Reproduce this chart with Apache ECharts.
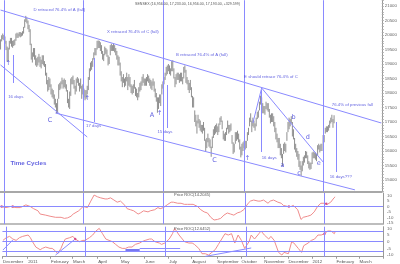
<!DOCTYPE html>
<html><head><meta charset="utf-8">
<script src="https://cdn.jsdelivr.net/npm/echarts@6/dist/echarts.min.js"></script>
<style>html,body{margin:0;padding:0;background:#fff}#c{width:400px;height:264px}</style>
</head><body><div id="c"></div><script>
// ---- categories: weekdays Dec 2010 .. Mar 2012 ----
const monthNames = ['January','February','March','April','May','June','July','August','September','October','November','December'];
const days = [];
(function(){let t=Date.UTC(2010,11,1);const e=Date.UTC(2012,2,30);while(t<=e){const d=new Date(t);const w=d.getUTCDay();if(w>0&&w<6)days.push(d.toISOString().slice(0,10));t+=86400000;}})();

// ---- daily price range (SENSEX) ----
const dayLow = [
19500,19780,19850,19820,19700,19480,19080,19100,19500,19700,19600,19560,19620,19650,19800,19900,19900,19950,19920,19950,19980,20050,20250,
20450,20400,20200,20100,19650,19150,19050,19250,19150,18950,18900,18950,19050,18900,18850,19000,18950,18900,18600,18300,18050,
18100,18200,17950,17850,17800,17600,17500,17300,17300,17800,18100,18150,18300,18150,18200,18150,18050,17650,17500,17450,
17900,18300,18300,18150,17950,18050,18350,18250,18050,18150,17800,17950,17850,17750,17800,17950,18100,18450,18750,18800,18900,19150,19300,
19300,19500,19550,19550,19450,19350,19150,19100,19300,19350,19250,18950,19000,19300,19450,19450,19450,19400,19300,19150,18950,
18950,18600,18400,18200,18350,18200,18250,18400,18100,18250,18200,18000,17950,18000,18150,17900,17850,17750,17850,18050,18100,18250,
18350,18250,18250,18250,18400,18350,18250,18150,18100,18250,18050,17850,17700,17320,17450,17650,17550,17950,18150,18300,18450,18600,
18650,18750,18650,18600,18750,18750,18500,18200,18300,18450,18450,18350,18400,18400,18300,18500,18700,18350,18300,18100,18000,
18100,17850,17500,17500,17000,16850,16600,16950,16800,16700,16650,16600,16700,16350,16000,16100,16300,16150,16100,15800,16100,16450,16550,
16600,16650,16550,16650,16900,17000,16750,16400,16350,16350,16550,16750,16600,16650,16700,16250,15900,15950,16250,16350,16400,16300,
16050,15780,15850,16000,16100,16050,16100,16350,16550,16850,17000,16650,16850,16800,16700,16850,17100,17150,17400,17600,17550,
17300,17300,17250,17450,17400,17350,17150,16950,17000,17000,16850,16650,16400,16300,16100,16100,15850,15750,15480,15900,16000,15950,
16350,16650,16750,16850,16950,16500,16400,16050,15950,15800,15700,15450,15350,15140,15300,15500,15600,15750,15750,15550,15400,15350,
15380,15550,15750,15750,15700,15650,15850,16050,15950,16000,16000,16250,16300,16600,16650,16650,16700,16800,16950,17000,16800,16956
];
const dayHigh = [
19850,19990,20050,20000,19950,19800,19600,19560,19800,19900,19900,19800,19820,19850,20050,20080,20050,20100,20100,20080,20130,20280,20540,
20660,20600,20500,20350,20200,19700,19400,19550,19550,19300,19200,19250,19350,19250,19150,19300,19300,19100,19000,18700,18450,
18550,18500,18300,18150,18100,17950,17800,17650,17800,18300,18350,18400,18530,18450,18500,18450,18300,18100,17800,18050,
18500,18550,18600,18450,18250,18500,18550,18500,18350,18500,18250,18300,18150,18100,18100,18250,18550,18850,19050,19100,19200,19400,19550,
19550,19800,19810,19800,19750,19650,19450,19350,19600,19550,19500,19300,19250,19650,19700,19650,19700,19650,19550,19450,19300,
19250,19050,18750,18550,18650,18500,18550,18700,18550,18650,18550,18300,18250,18300,18450,18200,18150,18000,18200,18350,18400,18560,
18650,18500,18500,18550,18650,18600,18500,18450,18400,18500,18400,18150,18000,17850,17850,17950,17950,18300,18400,18550,18700,18900,
18950,19000,18950,18850,19100,19130,18850,18550,18650,18700,18700,18650,18700,18700,18550,18900,18950,18800,18550,18450,18350,
18450,18200,17900,17850,17400,17250,17050,17250,17100,17050,16900,16900,17000,16800,16400,16450,16600,16450,16400,16150,16500,16750,16850,
16900,16950,16850,16950,17150,17200,17050,16700,16600,16650,16800,17050,16900,16900,16950,16550,16300,16250,16650,16650,16700,16600,
16400,16150,16250,16300,16350,16350,16350,16650,16800,17150,17300,17050,17150,17050,16950,17150,17350,17400,17700,17910,17850,
17650,17550,17550,17700,17650,17650,17450,17250,17300,17300,17200,17000,16800,16600,16450,16450,16250,16100,15900,16250,16300,16250,
16650,17000,17150,17100,17200,17000,16750,16450,16250,16100,16000,15900,15650,15500,15650,15800,15850,16000,15980,15850,15650,15600,
15600,15950,15980,15950,15950,15900,16200,16250,16200,16250,16250,16550,16550,16800,16850,16850,16900,17050,17150,17250,17100,17233
];

// ---- Price ROC panels: [day index, value] ----
const roc1 = [[0,0],[5,-1],[9,0],[14,-1],[18,-1],[23,1.5],[27,0],[30,-2],[34,-4],[36,-7],[41,-8],[45,-9],[50,-10],[55,-10],[58,-11],[61,-10.5],[64,-9],[66,-7],[71,-4],[75,0],[79,-1],[82,5],[85,10.6],[88,9],[91,8],[95,7],[97,7],[100,8],[103,6],[106,4],[109,5],[113,1],[115,-2],[118,-3],[121,-4],[125,-7],[127,-6],[130,-4],[134,-5],[136,-4],[140,-3],[143,-1],[145,-2],[148,-1],[152,2],[155,4],[157,4],[161,3],[164,3],[167,2],[170,2],[173,2],[175,2],[179,0],[182,-3],[185,-5],[188,-6],[191,-10],[194,-12.5],[197,-12],[200,-11],[203,-8],[206,-6],[209,-7],[212,-8],[215,-6],[218,-5],[221,-3],[225,3],[227,5],[230,6],[234,5],[236,5],[239,6],[243,3],[245,5],[248,6],[252,4],[255,3],[257,1],[261,0],[264,0],[266,1],[270,-3],[273,-12],[275,-10],[279,-9],[282,-8],[285,-5],[288,0],[291,3],[294,3],[297,2],[300,4],[303,8],[304,9]];
const roc2 = [[0,1],[3,3],[6,4],[9,2],[12,1],[15,3],[18,4],[23,5],[25,3],[27,0],[30,-4],[34,-6],[36,-5],[39,-4],[43,-5],[45,-5],[48,-7],[50,-9],[53,-5],[55,-1],[57,2],[61,3],[64,4],[66,2],[70,0],[73,1],[75,1],[79,3],[82,5],[85,8],[88,10],[91,6],[94,2],[97,1],[100,0],[103,-2],[106,-4],[109,-5],[112,-5],[115,-4],[118,-4],[121,-2],[125,-1],[127,0],[130,1],[134,2],[136,2],[139,0],[143,-1],[145,-2],[148,-1],[152,2],[155,6],[157,10],[161,5],[164,2],[166,0],[170,-1],[173,-1],[175,-2],[179,-5],[182,-9],[185,-9],[188,-10],[191,-8],[194,-6],[197,-2],[200,2],[203,6],[206,5],[209,6],[212,-1],[215,5],[218,1],[221,-5],[225,0],[227,5],[230,2],[234,6],[236,8],[239,5],[243,2],[245,4],[248,1],[252,-8],[255,-10],[257,-8],[261,-9],[264,0],[266,-1],[270,-5],[273,-8],[275,-3],[279,-1],[282,1],[285,2],[288,5],[291,5],[294,6],[297,8],[300,8],[303,6],[304,8]];
const roc1Dots = [[1,0],[11,0],[262,0],[296,2.5]];
const roc2Dots = [[66,2],[294,6]];

// ---- analyst drawings (data coordinates: [day index, level]) ----
const cycleDays = [3,75,148,222,294];
const trendLines = [
  [[0,20860],[347,16966]],
  [[0,18966],[79,16483]],
  [[50,17310],[323,14660]],
  [[230,16966],[238,18172]],
  [[238,18172],[294,15621]]
];
const dayMarks = [
  [[12,19310],[12,18345]],
  [[85,19207],[85,17000]],
  [[152,18276],[152,16793]],
  [[238,18103],[238,15966]],
  [[306,17000],[306,15276]]
];
const notes = [
  ['D retraced 76.4% of A (fall)',30,20862],
  ['X retraced 76.4% of C (fall)',97,20103],
  ['B retraced 76.4% of A (fall)',160,19310],
  ['E should retrace 76.4% of C',222,18552],
  ['76.4% of previous fall',302,17586],
  ['16 days',7,17862],
  ['17 days',78,16862],
  ['15 days',143,16655],
  ['16 days',238,15759],
  ['16 days???',300,15103]
];
const waveLabels = [
  ['C',45,17069],['A',138,17241],['C',195,15690],['a',257,15517],['b',267,17172],
  ['c',272,15241],['d',280,16483],['e',290,15586],
  ['\u2191',7,19034],['\u2191',79,17828],['\u2191',145,17310],['\u2191',225,15759]
];
const roc1Levels = [0];
const roc2Levels = [8,0,-7.5];
const roc2Lines = [
  [[0,-6.2],[9,1.3]],
  [[48,-10],[65,1.3]],
  [[185,-11],[227,-4.7]],
  [[125,-5],[162,-5]]
];
const roc2Thick = [[[112,-6.2],[125,-6.2]]];

const titleText = 'SENSEX (16,956.00, 17,233.00, 16,956.00, 17,193.00, +329.599)';
const roc1Title = 'Price ROC(14.2045)';
const roc2Title = 'Price ROC(12.6452)';

// ---- build ----
const FONT = 'Liberation Sans, Arial, sans-serif';
const BLUE = '#8a8aff';
const TXT = '#3a3ad8';
const ROC_COLOR = '#ef8c8c';
const monthStart = days.map((d,i)=> i===0 || d.slice(5,7)!==days[i-1].slice(5,7));
const isMult5 = v => Math.abs(v/5 - Math.round(v/5)) < 1e-6;

const chart = echarts.init(document.getElementById('c'), null, {renderer:'canvas'});
const vLine = (idx)=>({xAxis: idx});
const seg = (pair)=>[{coord:pair[0]},{coord:pair[1]}];
const smallTitle = (text, left, top, size)=>({text, left, top, padding:0,
  textStyle:{fontSize:size, color:'#555', fontWeight:'normal', fontFamily:FONT}});

const xBase = (gi)=>({type:'category', gridIndex:gi, data:days, boundaryGap:true,
  axisLabel:{show:false}, axisTick:{show:false},
  axisLine:{show:true, onZero:false, lineStyle:{color:'#a8a8a8', width: gi===0?2:1.5}}});

const option = {
  animation:false,
  title:[smallTitle(titleText,135,1.5,3.6), smallTitle(roc1Title,174,192.5,4), smallTitle(roc2Title,174,227,4)],
  grid:[
    {left:0,right:17,top:0.2,height:191.4},
    {left:0,right:17,top:193.0,height:31.05},
    {left:0,right:17,top:226.68,height:30.04}
  ],
  xAxis:[xBase(0), xBase(1), {
    type:'category', gridIndex:2, data:days, boundaryGap:true,
    axisLine:{show:true,onZero:false,lineStyle:{color:'#999'}},
    axisTick:{show:true, length:2, interval:(i)=>monthStart[i], lineStyle:{color:'#999'}},
    axisLabel:{show:true, interval:(i)=>monthStart[i], align:'left', margin:3, fontSize:4.4, color:'#555', fontFamily:FONT,
      formatter:(v)=>{const m=+v.slice(5,7)-1; return m===0 ? v.slice(0,4) : monthNames[m];}}
  }],
  yAxis:[
    {type:'value', gridIndex:0, position:'right', min:14600, max:21200, interval:100,
      splitLine:{show:false}, axisLine:{show:true,lineStyle:{color:'#999'}},
      axisTick:{show:true,length:2,lineStyle:{color:'#aaa'}},
      axisLabel:{fontSize:4.4, color:'#666', margin:3, fontFamily:FONT,
        formatter:(v)=> (v%500===0 && v>=15000 && v<=21000) ? String(v) : ''}},
    {type:'value', gridIndex:1, position:'right', min:-16.25, max:12.5, interval:1.25,
      splitLine:{show:false}, axisLine:{show:true,lineStyle:{color:'#999'}}, axisTick:{show:false},
      axisLabel:{fontSize:4.4, color:'#666', margin:4, fontFamily:FONT,
        formatter:(v)=> (isMult5(v) && v>=-15 && v<=10) ? String(Math.round(v)) : ''}},
    {type:'value', gridIndex:2, position:'right', min:-11.25, max:11.25, interval:1.25,
      splitLine:{show:false}, axisLine:{show:true,lineStyle:{color:'#999'}}, axisTick:{show:false},
      axisLabel:{fontSize:4.4, color:'#666', margin:4, fontFamily:FONT,
        formatter:(v)=> (isMult5(v) && v>=-10 && v<=10) ? String(Math.round(v)) : ''}}
  ],
  series:[
    {type:'custom', name:'SENSEX', xAxisIndex:0, yAxisIndex:0, clip:true,
      data: dayLow.map((l,i)=>[i,l,dayHigh[i]]),
      encode:{x:0,y:[1,2]},
      renderItem:(params,api)=>{
        const a=api.coord([api.value(0),api.value(1)]), b=api.coord([api.value(0),api.value(2)]);
        return {type:'line', shape:{x1:a[0],y1:a[1],x2:b[0],y2:b[1]}, style:{stroke:'#8f8f8f',lineWidth:1}};
      },
      markLine:{silent:true, symbol:['none','none'], label:{show:false},
        lineStyle:{color:BLUE,width:1,type:'solid'},
        data: cycleDays.map(vLine).concat(trendLines.map(seg)).concat(dayMarks.map(seg))}
    },
    {type:'scatter', xAxisIndex:0, yAxisIndex:0, symbolSize:0, silent:true, z:5,
      data: notes.map(n=>({value:[n[1],n[2]], label:{show:true, formatter:n[0], position:'right', distance:0,
        fontSize:4.3, color:TXT, fontFamily:FONT}}))
        .concat(waveLabels.map(n=>({value:[n[1],n[2]], label:{show:true, formatter:n[0], position:'inside',
        fontSize:6.5, color:TXT, fontFamily:'DejaVu Sans, '+FONT}})))
        .concat([{value:[9,15586], label:{show:true, formatter:'Time Cycles', position:'right', distance:0,
        fontSize:6.2, fontWeight:'bold', color:TXT, fontFamily:FONT}}])
    },
    {type:'line', xAxisIndex:1, yAxisIndex:1, data:roc1, showSymbol:false, silent:true,
      lineStyle:{color:ROC_COLOR, width:1}, itemStyle:{color:ROC_COLOR},
      markLine:{silent:true, symbol:['none','none'], label:{show:false}, lineStyle:{color:BLUE,width:1,type:'solid'},
        data: roc1Levels.map(v=>({yAxis:v})).concat(cycleDays.map(vLine))}
    },
    {type:'scatter', xAxisIndex:1, yAxisIndex:1, data:roc1Dots, symbolSize:2.5, silent:true, z:4,
      itemStyle:{color:'#d0307a'}},
    {type:'line', xAxisIndex:2, yAxisIndex:2, data:roc2, showSymbol:false, silent:true,
      lineStyle:{color:ROC_COLOR, width:1}, itemStyle:{color:ROC_COLOR},
      markLine:{silent:true, symbol:['none','none'], label:{show:false}, lineStyle:{color:BLUE,width:1,type:'solid'},
        data: roc2Levels.map(v=>({yAxis:v})).concat(cycleDays.map(vLine)).concat(roc2Lines.map(seg))
          .concat(roc2Thick.map(p=>[{coord:p[0], lineStyle:{color:'#4a4aee',width:1.5}},{coord:p[1]}]))}
    },
    {type:'scatter', xAxisIndex:2, yAxisIndex:2, data:roc2Dots, symbolSize:2.5, silent:true, z:4,
      itemStyle:{color:'#d0307a'}}
  ]
};
chart.setOption(option);
</script></body></html>
